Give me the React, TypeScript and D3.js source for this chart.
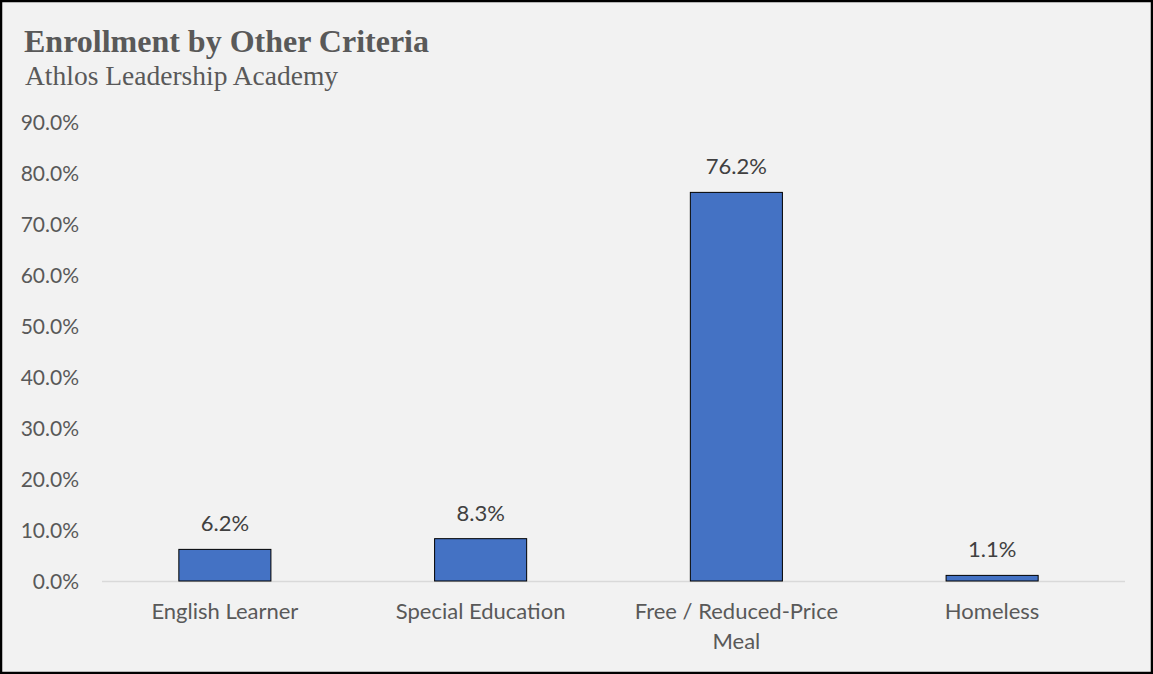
import React from "react";
import * as d3 from "d3";

const categories: string[][] = [
  ["English Learner"],
  ["Special Education"],
  ["Free / Reduced-Price", "Meal"],
  ["Homeless"],
];
const values: number[] = [6.2, 8.3, 76.2, 1.1];
const yTicks: number[] = [0, 10, 20, 30, 40, 50, 60, 70, 80, 90];
const title = "Enrollment by Other Criteria";
const subtitle = "Athlos Leadership Academy";

const W = 1153;
const H = 674;
const plotLeft = 97;
const plotRight = 1120;
const plotTop = 122;
const plotBottom = 581;

export default function App() {
  const keys = categories.map((c) => c.join(" "));
  const x = d3.scaleBand<string>().domain(keys).range([plotLeft, plotRight]).paddingInner(0.64).paddingOuter(0.32);
  const y = d3.scaleLinear().domain([0, 90]).range([plotBottom, plotTop]);
  const sans = "Lato, 'Open Sans', sans-serif";
  return (
    <svg width={W} height={H} style={{ position: "absolute", left: 0, top: 0 }}>
      <rect x={1} y={1} width={W - 2} height={H - 2} fill="#f2f2f2" stroke="#000" strokeWidth={2.5} />
      <text x={24} y={52} fontFamily="'Liberation Serif', serif" fontWeight="bold" fontSize={32} fill="#595959">
        {title}
      </text>
      <text x={25} y={85} fontFamily="'Liberation Serif', serif" fontSize={27.5} fill="#595959">
        {subtitle}
      </text>
      {yTicks.map((t) => (
        <text key={t} x={79} y={y(t)} dy="0.36em" textAnchor="end" fontFamily={sans} fontSize={21} fill="#595959">
          {d3.format(".1f")(t) + "%"}
        </text>
      ))}
      <line x1={102} x2={1125} y1={y(0) + 0.5} y2={y(0) + 0.5} stroke="#d9d9d9" strokeWidth={1.5} />
      {values.map((v, i) => {
        const k = keys[i];
        const bx = x(k)!;
        return (
          <g key={k}>
            <rect x={bx} y={y(v)} width={x.bandwidth()} height={y(0) - y(v)} fill="#4472c4" stroke="#000" strokeWidth={1} />
            <text x={bx + x.bandwidth() / 2} y={y(v) - 18} textAnchor="middle" fontFamily={sans} fontSize={22} fill="#404040">
              {d3.format(".1f")(v) + "%"}
            </text>
            {categories[i].map((line, j) => (
              <text key={j} x={bx + x.bandwidth() / 2} y={619 + j * 30} textAnchor="middle" fontFamily={sans} fontSize={22} fill="#595959">
                {line}
              </text>
            ))}
          </g>
        );
      })}
    </svg>
  );
}
